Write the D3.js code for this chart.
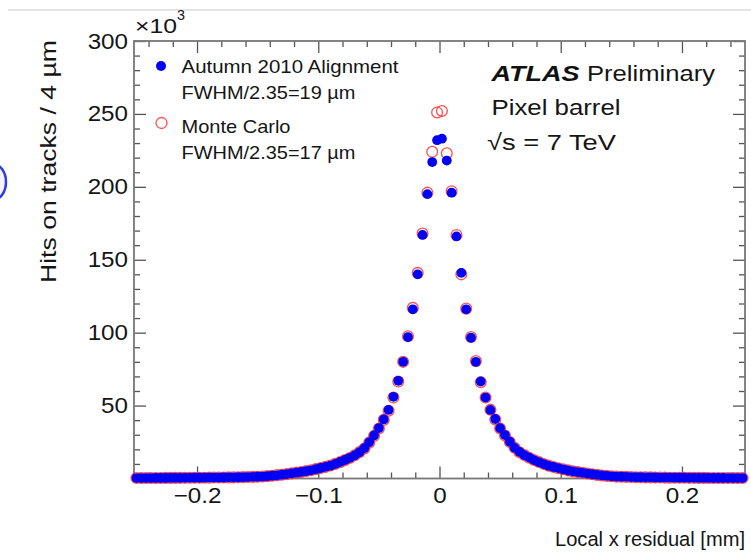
<!DOCTYPE html>
<html>
<head>
<meta charset="utf-8">
<script src="https://cdn.jsdelivr.net/npm/d3@7"></script>
<style>
  html, body { margin: 0; padding: 0; background: #fff; }
  svg { display: block; font-family: "Liberation Sans", Arial, Helvetica, sans-serif; }
  .axis path { display: none; }
  .axis line { stroke: #555; stroke-width: 1.3; }
  .axis text { font-size: 22px; fill: #151515; transform-box: fill-box; transform: scaleX(1.1); }
  .axis--y text { transform-origin: right center; }
  .axis--x text { transform-origin: center top; }
</style>
</head>
<body>
<div id="chart"></div>
<script>

// residual histograms, 4 um bins, values in units of 10^3 hits
const binWidth = 0.004;
const xLow = -0.252;

// Autumn 2010 alignment (data), from -0.250 to +0.250 mm
const alignValues = [
    0.3, 0.3, 0.3, 0.3, 0.35, 0.35, 0.35, 0.4, 0.4, 0.4, 0.45, 0.45, 0.5, 0.5, 0.55, 0.6,
    0.6, 0.65, 0.7, 0.75, 0.8, 0.85, 0.9, 1.0, 1.1, 1.2, 1.3, 1.6, 1.9, 2.2, 2.6, 3.0,
    3.5, 4.0, 4.5, 5.0, 5.6, 6.4, 7.2, 8.0, 8.8, 10.0, 11.3, 12.7, 14.2, 15.8, 18.0, 20.8,
    24.8, 29.5, 34.6, 40.5, 47, 56, 67, 80, 97, 116, 140, 167, 195, 217, 232,
    233, 218, 196, 166, 141, 116, 96.5, 80, 66.5, 55.5, 47, 40.8, 34.5, 29.8, 25.2, 21,
    18.2, 16, 14.3, 12.6, 11.2, 9.9, 8.7, 7.9, 7.1, 6.3, 5.5, 4.9, 4.4, 3.9, 3.4, 2.9,
    2.5, 2.1, 1.8, 1.5, 1.3, 1.2, 1.1, 1.0, 0.9, 0.85, 0.8, 0.75, 0.7, 0.65, 0.6, 0.6,
    0.55, 0.5, 0.5, 0.45, 0.45, 0.4, 0.4, 0.4, 0.35, 0.35, 0.35, 0.3, 0.3, 0.3, 0.3
];

// Monte Carlo
const mcValues = [
    0.3, 0.3, 0.3, 0.35, 0.35, 0.35, 0.4, 0.4, 0.4, 0.45, 0.45, 0.5, 0.5, 0.55, 0.55, 0.6,
    0.65, 0.7, 0.7, 0.75, 0.8, 0.85, 0.95, 1.0, 1.1, 1.2, 1.4, 1.6, 1.9, 2.3, 2.6, 3.0,
    3.5, 4.0, 4.5, 5.1, 5.7, 6.4, 7.2, 8.0, 8.9, 10.0, 11.2, 12.6, 14.1, 15.9, 18.1, 20.6,
    24.6, 29.2, 34.3, 40.2, 46.5, 55.5, 66.5, 80, 97.5, 117, 141, 168, 196, 224, 251,
    252, 223, 197, 167, 140, 116.5, 97, 80.5, 66, 55.5, 47.2, 40.5, 34.3, 29.5, 25.0, 21.1,
    18.0, 16.1, 14.2, 12.7, 11.3, 9.9, 8.8, 7.9, 7.0, 6.3, 5.6, 4.9, 4.4, 3.9, 3.4, 2.9,
    2.5, 2.1, 1.8, 1.5, 1.3, 1.2, 1.1, 1.0, 0.9, 0.85, 0.8, 0.75, 0.7, 0.65, 0.6, 0.55,
    0.55, 0.5, 0.5, 0.45, 0.45, 0.4, 0.4, 0.35, 0.35, 0.35, 0.3, 0.3, 0.3, 0.3, 0.3
];

const xMajorTicks = [-0.2, -0.1, 0, 0.1, 0.2];
const yMajorTicks = [50, 100, 150, 200, 250, 300];

const binCenters = alignValues.map((v, i) => xLow + binWidth * (i + 0.5));



const W = 751, H = 557;
const svg = d3.select("#chart").append("svg").attr("width", W).attr("height", H);

// leftovers of the screenshot: separator line and a bit of a blue button
svg.append("line")
    .attr("x1", 8).attr("x2", W).attr("y1", 10).attr("y2", 10)
    .attr("stroke", "#d9d9d9").attr("stroke-width", 1.5);
svg.append("ellipse")
    .attr("cx", -7).attr("cy", 182).attr("rx", 13).attr("ry", 18)
    .attr("fill", "#f6f2ff").attr("stroke", "#2b3fe0").attr("stroke-width", 2.5);


var x = d3.scaleLinear().domain([xLow, -xLow]).range([134, 745]);
var y = d3.scaleLinear().domain([0, 300]).range([478.5, 41]);

const xMinor = d3.range(-0.24, 0.25, 0.02).filter(v => Math.abs(v * 10 - Math.round(v * 10)) > 1e-6);
const yMinor = d3.range(10, 300, 10).filter(v => v % 50 !== 0);

const fmtX = d => d === 0 ? "0" : d3.format(".1f")(d);

// bottom
svg.append("g").attr("class", "axis axis--x")
    .attr("transform", `translate(0,${y(0)})`)
    .call(d3.axisBottom(x).tickValues(xMajorTicks).tickSizeInner(-12).tickSizeOuter(0).tickPadding(9).tickFormat(fmtX));
svg.append("g").attr("class", "axis")
    .attr("transform", `translate(0,${y(0)})`)
    .call(d3.axisBottom(x).tickValues(xMinor).tickSize(-6).tickFormat(""));
// top
svg.append("g").attr("class", "axis")
    .attr("transform", `translate(0,${y(300)})`)
    .call(d3.axisTop(x).tickValues(xMajorTicks).tickSize(-12).tickFormat(""));
svg.append("g").attr("class", "axis")
    .attr("transform", `translate(0,${y(300)})`)
    .call(d3.axisTop(x).tickValues(xMinor).tickSize(-6).tickFormat(""));
// left
svg.append("g").attr("class", "axis axis--y")
    .attr("transform", `translate(${x(xLow)},0)`)
    .call(d3.axisLeft(y).tickValues(yMajorTicks).tickSizeInner(-12).tickSizeOuter(0).tickPadding(6));
svg.append("g").attr("class", "axis")
    .attr("transform", `translate(${x(xLow)},0)`)
    .call(d3.axisLeft(y).tickValues(yMinor).tickSize(-6).tickFormat(""));
// right
svg.append("g").attr("class", "axis")
    .attr("transform", `translate(${x(-xLow)},0)`)
    .call(d3.axisRight(y).tickValues(yMajorTicks).tickSize(-12).tickFormat(""));
svg.append("g").attr("class", "axis")
    .attr("transform", `translate(${x(-xLow)},0)`)
    .call(d3.axisRight(y).tickValues(yMinor).tickSize(-6).tickFormat(""));

// frame
svg.append("rect")
    .attr("x", x(xLow)).attr("y", y(300))
    .attr("width", x(-xLow) - x(xLow)).attr("height", y(0) - y(300))
    .attr("fill", "none").attr("stroke", "#777").attr("stroke-width", 1.8);


// markers
svg.append("g")
    .selectAll("circle")
    .data(mcValues)
    .enter()
    .append("circle")
    .attr("cx", (d, i) => x(binCenters[i]))
    .attr("cy", d => y(d))
    .attr("r", 5.4)
    .attr("fill", "none")
    .attr("stroke", "#ff3030")
    .attr("stroke-opacity", 0.85)
    .attr("stroke-width", 1.3);

svg.append("g")
    .selectAll("circle")
    .data(alignValues)
    .enter()
    .append("circle")
    .attr("cx", (d, i) => x(binCenters[i]))
    .attr("cy", d => y(d))
    .attr("r", 4.9)
    .attr("fill", "#0000f5");


// texts
function label(txt, px, py, size, len, opts) {
    opts = opts || {};
    const t = svg.append("text")
        .attr("x", px).attr("y", py)
        .attr("font-size", size)
        .attr("fill", opts.fill || "#151515")
        .text(txt);
    if (len) t.attr("textLength", len).attr("lengthAdjust", "spacingAndGlyphs");
    if (opts.weight) t.attr("font-weight", opts.weight);
    if (opts.italic) t.attr("font-style", "italic");
    if (opts.anchor) t.attr("text-anchor", opts.anchor);
    return t;
}

// legend
svg.append("circle").attr("cx", 161).attr("cy", 66).attr("r", 5).attr("fill", "#0000f5");
svg.append("circle").attr("cx", 161.5).attr("cy", 123).attr("r", 5.5)
    .attr("fill", "none").attr("stroke", "#ff3030").attr("stroke-opacity", 0.85).attr("stroke-width", 1.3);
label("Autumn 2010 Alignment", 181.5, 72.5, 18.5, 217);
label("FWHM/2.35=19 µm", 181.5, 99, 18.5, 174);
label("Monte Carlo", 181.5, 132.5, 18.5, 109);
label("FWHM/2.35=17 µm", 181.5, 158.5, 18.5, 174);

label("ATLAS", 491.5, 81, 22.5, 88, { weight: "bold", italic: true, fill: "#111" });
label("Preliminary", 587, 81, 22.5, 128);
label("Pixel barrel", 491.5, 115, 22.5, 129);
label("√s = 7 TeV", 487, 150, 22.5, 129);

// axis titles
label("×10", 135, 33, 21, 42);
label("3", 177, 20, 14, 8);
label("Local x residual [mm]", 745, 546, 20.5, 190, { anchor: "end" });
svg.append("text")
    .attr("transform", "translate(56,40) rotate(-90)")
    .attr("text-anchor", "end")
    .attr("font-size", 21.5)
    .attr("fill", "#151515")
    .attr("textLength", 243).attr("lengthAdjust", "spacingAndGlyphs")
    .text("Hits on tracks / 4 µm");

</script>
</body>
</html>
